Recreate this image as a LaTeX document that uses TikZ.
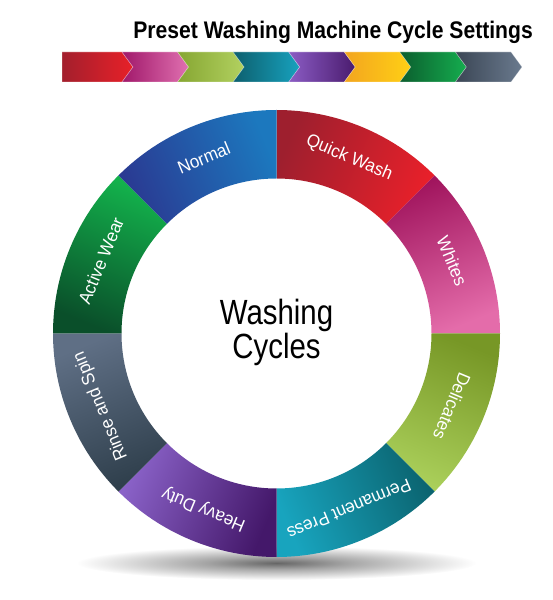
\documentclass[tikz,border=0pt]{standalone}
\usepackage{fontspec}
\setmainfont{Liberation Sans}
\newfontfamily\titlefont[FakeStretch=0.88]{Liberation Sans}
\newfontfamily\ringfont[FakeStretch=0.95]{Liberation Sans}
\newfontfamily\hubfont[FakeStretch=0.84]{Liberation Sans}
\usepackage{tikz}
\usetikzlibrary{calc,positioning,shapes}

% ring colours (dark end / light end)
\definecolor{quickD}{HTML}{9E1F2E}\definecolor{quickL}{HTML}{E8202A}
\definecolor{whitesD}{HTML}{A1155E}\definecolor{whitesL}{HTML}{E46CAA}
\definecolor{delicD}{HTML}{779726}\definecolor{delicL}{HTML}{AACF5A}
\definecolor{permD}{HTML}{0B6470}\definecolor{permL}{HTML}{18A4BE}
\definecolor{heavyD}{HTML}{44186A}\definecolor{heavyL}{HTML}{8A62C8}
\definecolor{rinseD}{HTML}{2F3F4C}\definecolor{rinseL}{HTML}{5F6F85}
\definecolor{activeD}{HTML}{0A4F2A}\definecolor{activeL}{HTML}{13B24C}
\definecolor{normalD}{HTML}{2A3A92}\definecolor{normalL}{HTML}{1C78BE}
% chevron bar colours (left / right)
\definecolor{barAl}{HTML}{A31F2D}\definecolor{barAr}{HTML}{E82028}
\definecolor{barBl}{HTML}{A0186A}\definecolor{barBr}{HTML}{E070B0}
\definecolor{barCl}{HTML}{86A632}\definecolor{barCr}{HTML}{B2D160}
\definecolor{barDl}{HTML}{0D5F6E}\definecolor{barDr}{HTML}{17A2BE}
\definecolor{barEl}{HTML}{8B5CC4}\definecolor{barEr}{HTML}{4A1B6E}
\definecolor{barFl}{HTML}{F3A51F}\definecolor{barFr}{HTML}{FFD015}
\definecolor{barGl}{HTML}{0B5E2E}\definecolor{barGr}{HTML}{15AD4F}
\definecolor{barHl}{HTML}{3B4655}\definecolor{barHr}{HTML}{6A7A8E}

\pgfdeclareradialshading{ringshadow}{\pgfpoint{0bp}{0bp}}{color(0bp)=(black!60); color(9bp)=(black!35); color(25bp)=(white); color(50bp)=(white)}

\begin{document}
\begin{tikzpicture}[x=1pt,y=1pt]
  \tikzstyle{seglabel} = [text=white, inner sep=0pt, font=\ringfont\fontsize{18}{20}\selectfont]
  \tikzstyle{hubtext} = [align=center, inner sep=0pt, font=\hubfont\fontsize{35}{29}\selectfont]
  \tikzstyle{chevron} = [draw=white, draw opacity=0.35, line width=0.6pt]
  \useasboundingbox (0,0) rectangle (553,600);

  \node[anchor=base east, inner sep=0pt, font=\titlefont\bfseries\fontsize{24}{28}\selectfont] (title) at (533,561) {Preset Washing Machine Cycle Settings};

  % chevron bar under the title
  \foreach \i/\cl/\cr in {0/barAl/barAr, 1/barBl/barBr, 2/barCl/barCr, 3/barDl/barDr,
                          4/barEl/barEr, 5/barFl/barFr, 6/barGl/barGr, 7/barHl/barHr} {
    \pgfmathsetmacro\xb{\i==0 ? 62 : 122+55.57*(\i-1)}
    \pgfmathsetmacro\xe{122+55.57*\i}
    \pgfmathsetmacro\nd{\i==0 ? 0 : 11}
    \shade[chevron, left color=\cl, right color=\cr]
      (\xb,548) -- (\xe,548) -- (\xe+11,533) -- (\xe,518) -- (\xb,518) -- (\xb+\nd,533) -- cycle;
  }

  \coordinate (hub) at (276.5,266.5);
  \shade[shading=ringshadow] (276.5,37) ellipse [x radius=200pt, y radius=17pt];

  % ring of cycles
  \begin{scope}[shift={(hub)}]
    \foreach \m/\nm/\cd/\cl/\txt in {67.5/quick/quickD/quickL/Quick Wash,
                                     22.5/whites/whitesD/whitesL/Whites,
                                     -22.5/delic/delicD/delicL/Delicates,
                                     -67.5/perm/permD/permL/Permanent Press,
                                     -112.5/heavy/heavyD/heavyL/Heavy Duty,
                                     -157.5/rinse/rinseD/rinseL/Rinse and Spin,
                                     157.5/active/activeD/activeL/Active Wear,
                                     112.5/normal/normalD/normalL/Normal} {
      \shade[top color=\cd, bottom color=\cl, shading angle=\m]
        (\m+22.5:223.5pt) arc[start angle=\m+22.5, end angle=\m-22.5, radius=223.5pt]
        -- (\m-22.5:155pt) arc[start angle=\m-22.5, end angle=\m+22.5, radius=155pt] -- cycle;
      \node[seglabel, rotate=\m-90] (lab-\nm) at (\m:190pt) {\txt};
    }
  \end{scope}

  \node[hubtext] (hub-label) at ($(hub)+(0,1)$) {Washing\\Cycles};
\end{tikzpicture}
\end{document}
